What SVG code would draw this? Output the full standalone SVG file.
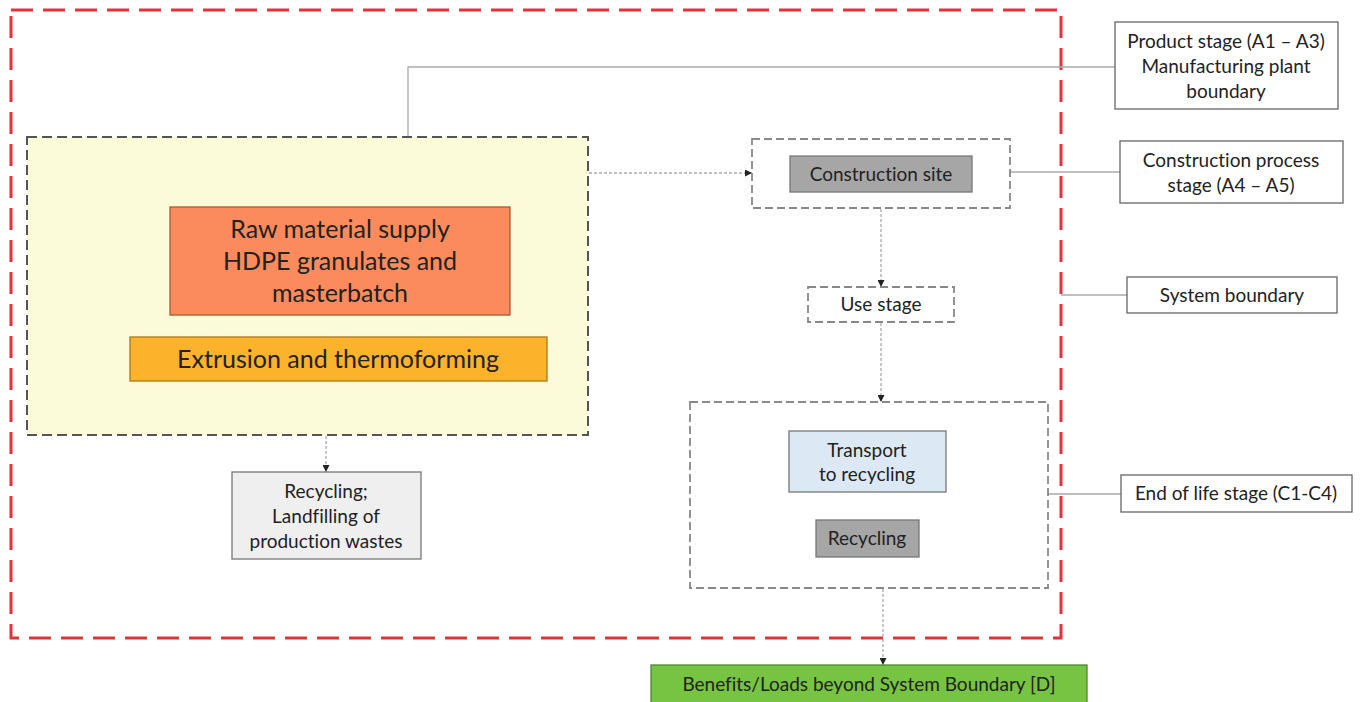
<svg xmlns="http://www.w3.org/2000/svg" width="1360" height="702" viewBox="0 0 1360 702">
<defs>
<marker id="arr" viewBox="0 0 10 10" refX="10" refY="5" markerWidth="7" markerHeight="7" markerUnits="userSpaceOnUse" orient="auto">
<path d="M0,0 L10,5 L0,10 z" fill="#222"/>
</marker>
<style>
text{font-family:Lato,"Liberation Sans",sans-serif;fill:#222;text-anchor:middle;font-variant-ligatures:none}
.lbl{fill:#fff;stroke:#666;stroke-width:1.3}
.lead{fill:none;stroke:#aaa;stroke-width:1.3}
.flow{fill:none;stroke:#aaa;stroke-width:1.3;stroke-dasharray:3 2}
.dash{fill:#fff;stroke:#888;stroke-width:1.8;stroke-dasharray:8 4}
.t16{font-size:19px}
.t17{font-size:19px}
.t22{font-size:25px}
</style>
</defs>
<rect width="1360" height="702" fill="#fff"/>

<g id="system-boundary">
<rect x="11" y="10" width="1050" height="628" fill="none" stroke="#e2333a" stroke-width="3" stroke-dasharray="22 10"/>
</g>

<g id="connectors">
<polyline class="lead" points="408,137 408,67 1115,67"/>
<line class="lead" x1="1010" y1="172" x2="1120" y2="172"/>
<line class="lead" x1="1061" y1="295" x2="1127" y2="295"/>
<line class="lead" x1="1048" y1="494" x2="1121" y2="494"/>
<line class="flow" x1="340" y1="315" x2="340" y2="337" marker-end="url(#arr)"/>
<line class="flow" x1="326" y1="436" x2="326" y2="472" marker-end="url(#arr)"/>
<line class="flow" x1="589" y1="173" x2="752" y2="173" marker-end="url(#arr)"/>
<line class="flow" x1="881" y1="209" x2="881" y2="287" marker-end="url(#arr)"/>
<line class="flow" x1="881" y1="323" x2="881" y2="402" marker-end="url(#arr)"/>
<line class="flow" x1="883" y1="589" x2="883" y2="665" marker-end="url(#arr)"/>
</g>

<g id="product-stage-box">
<rect x="27" y="137" width="561" height="298" fill="#fcfbd9" stroke="#555" stroke-width="2" stroke-dasharray="10 5"/>
</g>

<g id="raw-material">
<rect x="170" y="207" width="340" height="108" fill="#fb8b5d" stroke="#a65a35" stroke-width="1.3"/>
<text class="t22" x="340" y="238">Raw material supply</text>
<text class="t22" x="340" y="270">HDPE granulates and</text>
<text class="t22" x="340" y="302">masterbatch</text>
</g>

<g id="extrusion">
<rect x="130" y="337" width="417" height="44" fill="#fdb22b" stroke="#a8781a" stroke-width="1.3"/>
<text class="t22" x="338" y="368">Extrusion and thermoforming</text>
</g>

<g id="production-wastes">
<rect x="232" y="472" width="189" height="87" fill="#efefef" stroke="#777" stroke-width="1.3"/>
<text class="t16" x="326" y="498">Recycling;</text>
<text class="t16" x="326" y="523">Landfilling of</text>
<text class="t16" x="326" y="548">production wastes</text>
</g>

<g id="construction-stage">
<rect class="dash" x="752" y="139" width="258" height="69"/>
<rect x="790" y="156" width="182" height="36" fill="#a6a6a6" stroke="#777" stroke-width="1.3"/>
<text class="t17" x="881" y="181">Construction site</text>
</g>

<g id="use-stage">
<rect class="dash" x="808" y="287" width="146" height="35"/>
<text class="t17" x="881" y="311">Use stage</text>
</g>

<g id="end-of-life">
<rect class="dash" x="690" y="402" width="358" height="186"/>
<rect x="789" y="431" width="157" height="61" fill="#dce9f5" stroke="#777" stroke-width="1.3"/>
<text class="t17" x="867" y="457">Transport</text>
<text class="t17" x="867" y="481">to recycling</text>
<rect x="816" y="520" width="103" height="37" fill="#a6a6a6" stroke="#777" stroke-width="1.3"/>
<text class="t17" x="867" y="545">Recycling</text>
</g>

<g id="benefits">
<rect x="651" y="665" width="436" height="38" fill="#76c442" stroke="#4b8a2b" stroke-width="1.3"/>
<text class="t16" x="869" y="691">Benefits/Loads beyond System Boundary [D]</text>
</g>

<g id="label-product">
<rect class="lbl" x="1115" y="22" width="223" height="87"/>
<text class="t16" x="1226" y="48">Product stage (A1 – A3)</text>
<text class="t16" x="1226" y="73">Manufacturing plant</text>
<text class="t16" x="1226" y="98">boundary</text>
</g>

<g id="label-construction">
<rect class="lbl" x="1120" y="141" width="223" height="62"/>
<text class="t16" x="1231" y="167">Construction process</text>
<text class="t16" x="1231" y="192">stage (A4 – A5)</text>
</g>

<g id="label-system">
<rect class="lbl" x="1127" y="277" width="210" height="36"/>
<text class="t16" x="1232" y="302">System boundary</text>
</g>

<g id="label-eol">
<rect class="lbl" x="1121" y="475" width="231" height="37"/>
<text class="t16" x="1236" y="500">End of life stage (C1-C4)</text>
</g>
</svg>
